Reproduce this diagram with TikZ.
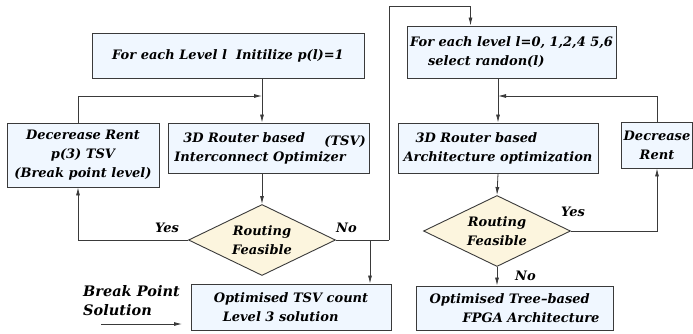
\documentclass[tikz,border=0pt]{standalone}
\usepackage{fontspec}
\setmainfont{DejaVu Serif}
\usetikzlibrary{positioning,shapes.geometric,arrows.meta}
\definecolor{boxfill}{HTML}{F0F7FF}
\definecolor{decfill}{HTML}{FCF5DE}
\definecolor{edge}{HTML}{3A3A3A}
\newcommand{\boxfont}{\fontsize{13}{19}\selectfont\bfseries\itshape}
\tikzset{
  box/.style={draw=edge, fill=boxfill, line width=0.9pt, inner sep=2pt, align=left, font=\boxfont},
  dec/.style={diamond, draw=edge, fill=decfill, line width=0.9pt, inner sep=0pt,
    minimum width=147pt, minimum height=71pt, aspect=2, align=center, font=\boxfont},
  lbl/.style={font=\boxfont, inner sep=0pt},
  line/.style={draw=edge, line width=0.8pt},
  arr/.style={line, -{Latex[length=8pt,width=4pt]}}
}
\begin{document}
\begin{tikzpicture}[x=1pt,y=1pt]
  \useasboundingbox (0,0) rectangle (693,-333);
  % Lado izquierdo: optimizacion TSV
  \node[box, minimum width=272pt, minimum height=45pt] (init) at (228,-55.5) {For each Level l\ \ Initilize p(l)=1};
  \node[box, minimum width=152pt, minimum height=64pt, align=center] (rent3) at (83,-155) {Decerease Rent\\p(3) TSV\\(Break point\ level)};
  \node[box, minimum width=201pt, minimum height=50pt] (tsvopt) at (268.5,-148) {\hspace*{9pt}3D Router based\\Interconnect Optimizer\hspace*{17pt}};
  \node[lbl, anchor=east] (tsv) at (366,-142) {(TSV)};
  \node[dec] (feas1) at (262,-240) {Routing\\Feasible};
  \node[box, minimum width=200pt, minimum height=46pt] (tsvsol) at (291,-307) {Optimised\ TSV count\\\hspace*{9pt}Level 3\ solution};
  \node[lbl, align=left, anchor=north west, font=\fontsize{14.5}{19}\selectfont\bfseries\itshape] (bpsol) at (83,-285) {Break Point\\Solution};
  % Lado derecho: arquitectura
  \node[box, minimum width=209pt, minimum height=52pt] (levels) at (511.5,-52) {For each level l=0, 1,2,4 5,6\\\hspace*{18pt}select randon(l)};
  \node[box, minimum width=200pt, minimum height=50pt] (archopt) at (498,-148) {\hspace*{12pt}3D Router based\\Architecture optimization};
  \node[box, minimum width=70pt, minimum height=46pt, align=center] (rent) at (657,-145) {Decrease\\Rent};
  \node[dec] (feas2) at (497,-231) {Routing\\Feasible};
  \node[box, minimum width=197pt, minimum height=44pt] (fpga) at (514.5,-308) {Optimised Tree--based\\\hspace*{33pt}FPGA Architecture};
  % Conectores izquierda
  \coordinate (j1) at (feas1.north |- 0,-96);
  \draw[arr] (init.south -| feas1.north) -- (tsvopt.north -| feas1.north);
  \draw[arr] ([xshift=-5pt]rent3.north) |- (j1);
  \draw[arr] (tsvopt.south -| feas1.north) -- (feas1.north);
  \draw[arr] (feas1.west) -| ([xshift=-5pt]rent3.south);
  \node[lbl, above left=7pt and 9pt of feas1.west] (yes1) {Yes};
  \coordinate (n0) at (370,-240);
  \coordinate (n1) at (389,-240);
  \coordinate (n2) at (389,-6);
  \draw[line] (feas1.east) -- (n1);
  \draw[arr] (n0) -- (n0 |- tsvsol.north);
  \draw[arr] (n1) -- (n2) -| ([xshift=-41pt]levels.north);
  \node[lbl, above right=7pt and 0pt of feas1.east] (no1) {No};
  \coordinate (bpa) at (101,-324);
  \coordinate (bpb) at (182,-324);
  \draw[arr] (bpa) -- (bpb);
  % Conectores derecha
  \coordinate (j2) at (archopt.north |- 0,-96);
  \draw[arr] (levels.south -| archopt.north) -- (archopt.north);
  \draw[arr] (rent.north) |- (j2);
  \draw[arr] (archopt.south) -- (feas2.north);
  \draw[arr] (feas2.east) -| (rent.south);
  \node[lbl, above right=14pt and -10pt of feas2.east] (yes2) {Yes};
  \draw[arr] (feas2.south) -- (feas2.south |- fpga.north);
  \node[lbl, below right=4pt and 18pt of feas2.south] (no2) {No};
\end{tikzpicture}
\end{document}
